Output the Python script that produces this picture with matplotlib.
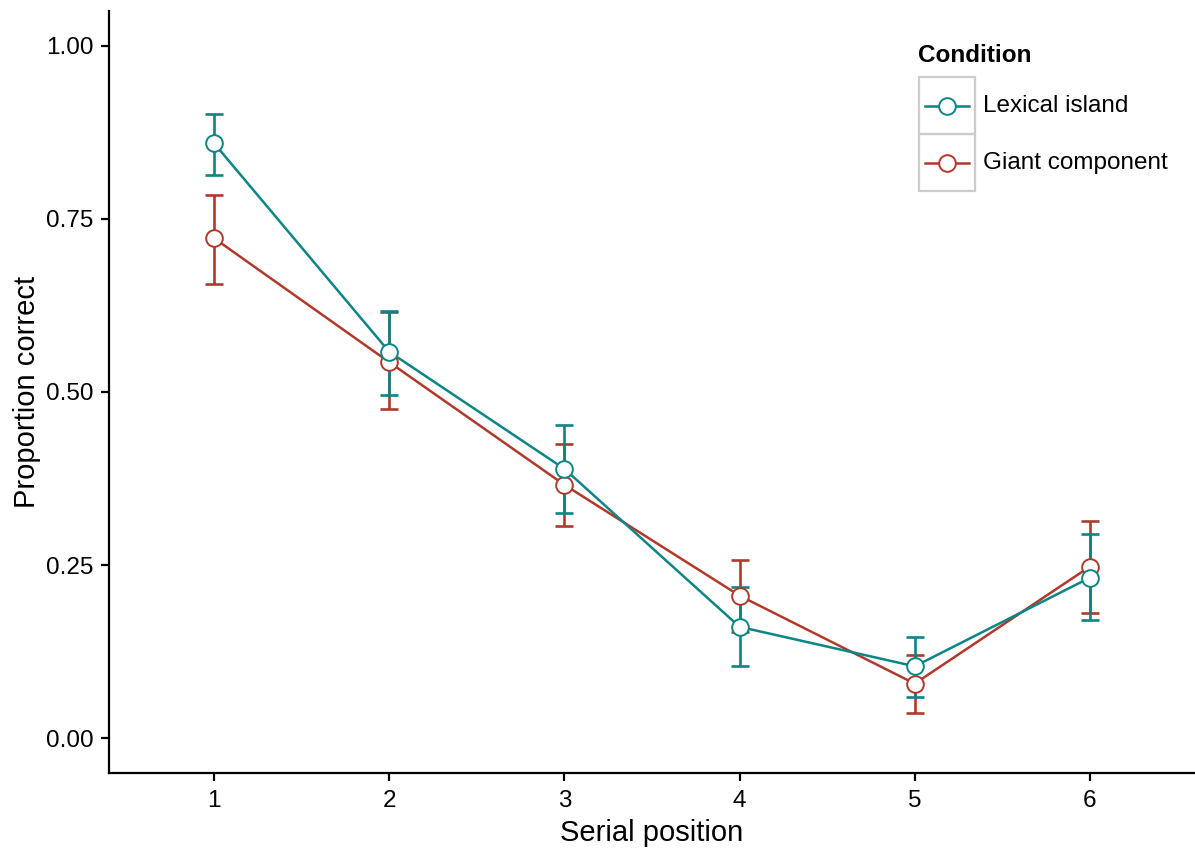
import numpy as np
import matplotlib.pyplot as plt
from matplotlib.patches import Rectangle
from matplotlib.lines import Line2D

plt.rcParams['font.family'] = ['Liberation Sans', 'DejaVu Sans']

# data
positions = [1, 2, 3, 4, 5, 6]
conditions = ['Lexical island', 'Giant component']
colors = ['#0B8585', '#B0392C']

island_mean = [0.859, 0.558, 0.389, 0.161, 0.104, 0.232]
island_hi = [0.902, 0.617, 0.452, 0.218, 0.147, 0.295]
island_lo = [0.813, 0.496, 0.326, 0.105, 0.060, 0.171]

giant_mean = [0.722, 0.543, 0.366, 0.206, 0.079, 0.248]
giant_hi = [0.785, 0.615, 0.425, 0.258, 0.121, 0.314]
giant_lo = [0.656, 0.475, 0.307, 0.153, 0.037, 0.181]

yticks = [0.00, 0.25, 0.50, 0.75, 1.00]
ytick_labels = ['0.00', '0.25', '0.50', '0.75', '1.00']

series = [
    (island_mean, island_lo, island_hi),
    (giant_mean, giant_lo, giant_hi),
]

fig = plt.figure(figsize=(11.95, 8.5), dpi=100)
ax = fig.add_axes([109 / 1195, 1 - 773 / 850, 1 - 109 / 1195, (773 - 11) / 850])

x = np.array(positions)
draw_order = [1, 0]  # giant first, island on top

# error bars
for i in draw_order:
    m, lo, hi = (np.array(v) for v in series[i])
    ax.errorbar(x, m, yerr=[m - lo, hi - m], fmt='none', ecolor=colors[i],
                elinewidth=1.9, capsize=6.2, capthick=1.9, zorder=2)

# lines
for i in draw_order:
    ax.plot(x, series[i][0], color=colors[i], lw=1.8, zorder=3)

# points
for i in draw_order:
    ax.plot(x, series[i][0], 'o', ms=12, mfc='white', mec=colors[i],
            mew=1.4, zorder=4)

ax.set_xlim(0.4, 6.6)
ax.set_ylim(-0.05, 1.05)
ax.set_xticks(positions)
ax.set_xticklabels([str(p) for p in positions])
ax.set_yticks(yticks)
ax.set_yticklabels(ytick_labels)

for s in ['top', 'right']:
    ax.spines[s].set_visible(False)
for s in ['left', 'bottom']:
    ax.spines[s].set_linewidth(1.6)
ax.tick_params(axis='both', direction='out', width=1.6, length=6,
               labelsize=17.5, colors='black', pad=5)
ax.tick_params(axis='x', pad=6)

ax.set_xlabel('Serial position', fontsize=21, labelpad=5)
ax.set_ylabel('Proportion correct', fontsize=21, labelpad=4)

# legend drawn by hand (ggplot style key boxes)
W, H = 1195.0, 850.0
fig.text(918 / W, 1 - 55 / H, 'Condition', fontsize=17.5, fontweight='bold',
         va='center', ha='left')
for k, name in enumerate(conditions):
    top = 77 + k * 57
    fig.add_artist(Rectangle((919 / W, 1 - (top + 57) / H), 56 / W, 57 / H,
                             transform=fig.transFigure, fill=False,
                             edgecolor='#CCCCCC', lw=1.6))
    yc = 1 - (top + 28.5) / H
    fig.add_artist(Line2D([925 / W, 969 / W], [yc, yc], transform=fig.transFigure,
                          color=colors[k], lw=1.8))
    fig.add_artist(Line2D([947 / W], [yc], transform=fig.transFigure, marker='o',
                          ms=12, mfc='white', mec=colors[k], mew=1.4))
    fig.text(983 / W, yc, name, fontsize=17.5, va='center', ha='left')

fig.savefig('out.png', dpi=100)
